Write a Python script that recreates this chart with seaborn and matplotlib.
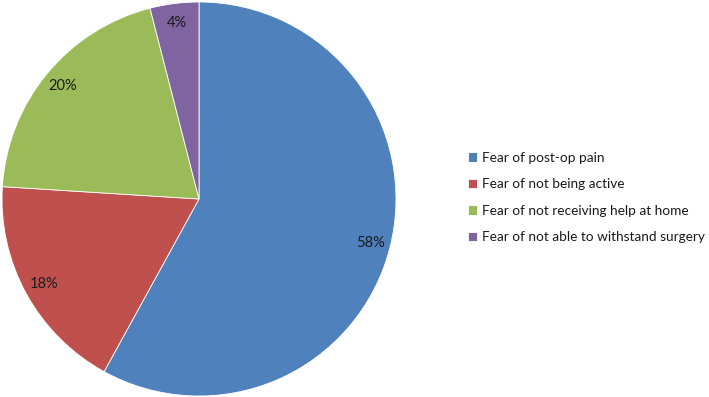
import matplotlib
matplotlib.use("Agg")
import matplotlib.pyplot as plt
import seaborn as sns

categories = ["Fear of post-op pain", "Fear of not being active",
              "Fear of not receiving help at home", "Fear of not able to withstand surgery"]
values = [58, 18, 20, 4]
colors = ["#4F81BD", "#C0504D", "#9BBB59", "#8064A2"]

sns.set_theme(style="white")
plt.rcParams['font.family'] = ['Lato', 'DejaVu Sans']

W, H = 709, 397
fig = plt.figure(figsize=(W / 100, H / 100), dpi=100)
fig.patch.set_facecolor("white")
ax = fig.add_axes([2 / W, 1 / H, 394 / W, 394 / H])
wedges, texts, autotexts = ax.pie(
    values, colors=sns.color_palette(colors), startangle=90, counterclock=False,
    autopct=lambda p: f"{p:.0f}%", pctdistance=0.9, radius=1.0,
    wedgeprops=dict(edgecolor="white", linewidth=0.6),
    textprops=dict(fontsize=10.5, color="#1a1a1a"))
ax.set_xlim(-1.0, 1.0)
ax.set_ylim(-1.0, 1.0)
ax.axis("off")

leg = fig.legend(wedges, categories, loc="upper left",
                 bbox_to_anchor=(461 / W, 1 - 145 / H), frameon=False,
                 fontsize=9.8, handlelength=0.7, handleheight=0.7,
                 handletextpad=0.35, labelspacing=1.07, borderpad=0)
for t in leg.get_texts():
    t.set_color("#1a1a1a")

fig.savefig("out.png", dpi=100, facecolor="white")
